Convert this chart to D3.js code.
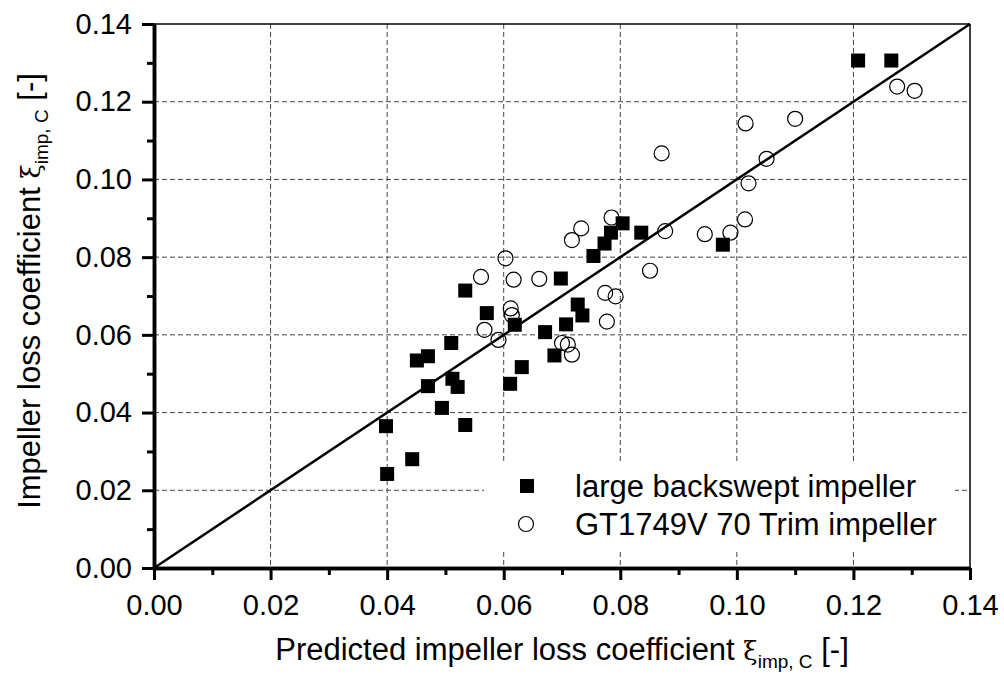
<!DOCTYPE html>
<html>
<head>
<meta charset="utf-8">
<script src="https://cdn.jsdelivr.net/npm/d3@7/dist/d3.min.js"></script>
<style>
  html, body { margin: 0; padding: 0; background: #fff; }
  svg text { font-family: "Liberation Sans", Arial, sans-serif; fill: #000; }
</style>
</head>
<body>
<svg id="chart" width="1004" height="675"></svg>
<script>
// ---- data ----
const majorTicks = [0.00, 0.02, 0.04, 0.06, 0.08, 0.10, 0.12, 0.14];
const minorTicks = [0.01, 0.03, 0.05, 0.07, 0.09, 0.11, 0.13];
const tickLabels = ["0.00", "0.02", "0.04", "0.06", "0.08", "0.10", "0.12", "0.14"];

const largeX = [0.0534,0.0571,0.0619,0.0510,0.0451,0.0470,0.0470,0.0512,0.0521,0.0494,0.0611,0.0631,0.0671,0.0707,0.0727,0.0735,0.0687,0.0698,0.0754,0.0773,0.0784,0.0804,0.0836,0.0398,0.0400,0.0443,0.0534,0.1208,0.1265,0.0976];
const largeY = [0.0714,0.0656,0.0626,0.0579,0.0534,0.0545,0.0468,0.0487,0.0466,0.0412,0.0474,0.0517,0.0607,0.0627,0.0678,0.0650,0.0547,0.0745,0.0803,0.0835,0.0863,0.0887,0.0863,0.0365,0.0242,0.0280,0.0368,0.1306,0.1306,0.0832];

const gtX = [0.0871,0.0785,0.0733,0.0717,0.0877,0.0603,0.0561,0.0617,0.0661,0.0851,0.0774,0.0792,0.0777,0.0612,0.0614,0.0567,0.0591,0.0700,0.0710,0.0717,0.1275,0.1305,0.1015,0.1100,0.1051,0.1020,0.1014,0.0945,0.0989];
const gtY = [0.1067,0.0902,0.0874,0.0844,0.0867,0.0797,0.0749,0.0742,0.0744,0.0765,0.0708,0.0699,0.0634,0.0668,0.0651,0.0613,0.0587,0.0579,0.0575,0.0549,0.1239,0.1228,0.1144,0.1156,0.1053,0.0990,0.0897,0.0859,0.0863];

const legendLabels = ["large backswept impeller", "GT1749V 70 Trim impeller"];
const diagonal = [[0, 0], [0.14, 0.14]];

// ---- layout ----
const svg = d3.select("#chart");
const L = 154, R = 970, T = 24, B = 568;
const x = d3.scaleLinear().domain([0, 0.14]).range([L, R]);
const y = d3.scaleLinear().domain([0, 0.14]).range([B, T]);
const FS = 29;
const TFS = 31;

// grid
const grid = svg.append("g");
grid.selectAll("line.vg").data(majorTicks.slice(1, -1)).join("line")
  .attr("x1", d => x(d)).attr("x2", d => x(d)).attr("y1", T).attr("y2", B)
  .attr("stroke", "#444").attr("stroke-width", 1).attr("stroke-dasharray", "5,3");
grid.selectAll("line.hg").data(majorTicks.slice(1, -1)).join("line")
  .attr("y1", d => y(d)).attr("y2", d => y(d)).attr("x1", L).attr("x2", R)
  .attr("stroke", "#444").attr("stroke-width", 1).attr("stroke-dasharray", "5,3");

// top/right borders
svg.append("line").attr("x1", L).attr("x2", R).attr("y1", T).attr("y2", T).attr("stroke", "#000").attr("stroke-width", 1.5);
svg.append("line").attr("x1", R).attr("x2", R).attr("y1", T).attr("y2", B).attr("stroke", "#000").attr("stroke-width", 1.5);

// legend background (covers grid)
svg.append("rect").attr("x", 484).attr("y", 462).attr("width", 471).attr("height", 87).attr("fill", "#fff");

// diagonal
svg.append("path")
  .attr("d", d3.line().x(d => x(d[0])).y(d => y(d[1]))(diagonal))
  .attr("stroke", "#000").attr("stroke-width", 2.5).attr("fill", "none");

// markers
const S = 14;
svg.append("g").selectAll("rect").data(d3.range(largeX.length)).join("rect")
  .attr("x", i => x(largeX[i]) - S / 2).attr("y", i => y(largeY[i]) - S / 2)
  .attr("width", S).attr("height", S).attr("fill", "#000");
svg.append("g").selectAll("circle").data(d3.range(gtX.length)).join("circle")
  .attr("cx", i => x(gtX[i])).attr("cy", i => y(gtY[i])).attr("r", 7.5)
  .attr("fill", "none").attr("stroke", "#000").attr("stroke-width", 1.2);

// axes
function styleAxis(g) {
  g.select(".domain").attr("stroke-width", 3.5);
  g.selectAll(".tick line").attr("stroke-width", 3);
  g.selectAll("text").attr("font-size", FS).attr("font-family", "Liberation Sans, Arial, sans-serif").attr("fill", "#000");
}
const xAxis = svg.append("g").attr("transform", `translate(0,${B})`)
  .call(d3.axisBottom(x).tickValues(majorTicks).tickFormat((d, i) => tickLabels[i]).tickSize(12).tickSizeOuter(0).tickPadding(14));
styleAxis(xAxis);
const xMinor = svg.append("g").attr("transform", `translate(0,${B})`)
  .call(d3.axisBottom(x).tickValues(minorTicks).tickFormat("").tickSize(7).tickSizeOuter(0));
styleAxis(xMinor);

const yAxis = svg.append("g").attr("transform", `translate(${L},0)`)
  .call(d3.axisLeft(y).tickValues(majorTicks).tickFormat((d, i) => tickLabels[i]).tickSize(12).tickSizeOuter(0).tickPadding(10));
styleAxis(yAxis);
const yMinor = svg.append("g").attr("transform", `translate(${L},0)`)
  .call(d3.axisLeft(y).tickValues(minorTicks).tickFormat("").tickSize(7).tickSizeOuter(0));
styleAxis(yMinor);

// axis titles
function title(sel, main) {
  sel.attr("font-size", TFS).attr("text-anchor", "middle");
  sel.append("tspan").text(main + " ");
  sel.append("tspan").text("ξ").attr("font-size", 26).attr("font-family", "DejaVu Serif, serif").attr("font-weight", 300);
  sel.append("tspan").text("imp, C").attr("font-size", 19).attr("dy", 8);
  sel.append("tspan").text(" [-]").attr("dy", -8);
}
title(svg.append("text").attr("x", (L + R) / 2).attr("y", 660), "Predicted impeller loss coefficient");
title(svg.append("text").attr("transform", `translate(40,${(T + B) / 2 - 5}) rotate(-90)`), "Impeller loss coefficient");

// legend
const lg = svg.append("g");
lg.append("rect").attr("x", 527 - S / 2).attr("y", 486 - S / 2).attr("width", S).attr("height", S).attr("fill", "#000");
lg.append("circle").attr("cx", 526).attr("cy", 524).attr("r", 7.5).attr("fill", "none").attr("stroke", "#000").attr("stroke-width", 1.2);
lg.selectAll("text").data(legendLabels).join("text")
  .attr("x", 575).attr("y", (d, i) => 497 + i * 38).attr("font-size", 31).text(d => d);
</script>
</body>
</html>
